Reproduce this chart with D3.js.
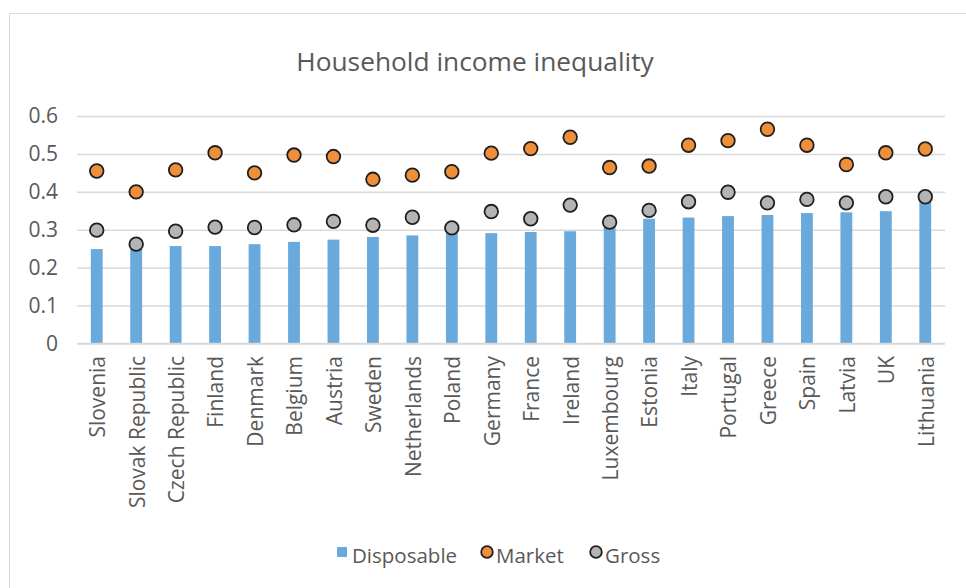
<!DOCTYPE html>
<html>
<head>
<meta charset="utf-8">
<script src="https://cdn.jsdelivr.net/npm/d3@7"></script>
<style>
  body { margin: 0; background: #fff; }
  text { font-family: "Open Sans", sans-serif; fill: #595959; }
</style>
</head>
<body>
<div id="chart"></div>
<script>
var countries = ["Slovenia", "Slovak Republic", "Czech Republic", "Finland", "Denmark", "Belgium",
  "Austria", "Sweden", "Netherlands", "Poland", "Germany", "France", "Ireland", "Luxembourg",
  "Estonia", "Italy", "Portugal", "Greece", "Spain", "Latvia", "UK", "Lithuania"];
var disposable = [0.249, 0.256, 0.257, 0.257, 0.262, 0.268, 0.274, 0.281, 0.285, 0.291, 0.291, 0.294,
  0.296, 0.31, 0.329, 0.332, 0.336, 0.339, 0.344, 0.346, 0.349, 0.376];
var market = [0.455, 0.400, 0.458, 0.503, 0.450, 0.497, 0.493, 0.433, 0.444, 0.453, 0.502, 0.514,
  0.544, 0.464, 0.468, 0.523, 0.535, 0.565, 0.523, 0.472, 0.503, 0.513];
var gross = [0.299, 0.262, 0.296, 0.307, 0.306, 0.313, 0.322, 0.312, 0.333, 0.305, 0.348, 0.329,
  0.365, 0.320, 0.351, 0.374, 0.399, 0.371, 0.380, 0.371, 0.387, 0.387];
var yTicks = [0, 0.1, 0.2, 0.3, 0.4, 0.5, 0.6];

var svgWidth = 966, svgHeight = 588;
var plot = { left: 77, right: 945, top: 116, bottom: 343.5 };

var svg = d3.select("#chart").append("svg")
  .attr("width", svgWidth)
  .attr("height", svgHeight);

// chart frame (only top and left edges show in the crop)
svg.append("rect")
  .attr("x", 9.5).attr("y", 13.5)
  .attr("width", 1000).attr("height", 700)
  .attr("fill", "none")
  .attr("stroke", "#d9d9d9")
  .attr("stroke-width", 1);

var x = d3.scaleBand()
  .domain(countries)
  .range([plot.left, plot.right])
  .paddingInner(0.7)
  .paddingOuter(0.35);

var y = d3.scaleLinear()
  .domain([0, 0.6])
  .range([plot.bottom, plot.top]);

// gridlines
var yAxis = d3.axisLeft(y)
  .tickValues(yTicks)
  .tickSize(-(plot.right - plot.left))
  .tickPadding(19)
  .tickFormat(function(d) { return d === 0 ? "0" : d3.format(".1f")(d); });

var yG = svg.append("g")
  .attr("transform", `translate(${plot.left},0)`)
  .call(yAxis);
yG.select(".domain").remove();
yG.selectAll("line").attr("stroke", "#d9d9d9").attr("stroke-width", 1.5);
yG.selectAll("text")
  .attr("font-size", 21)
  .style("font-family", "'Open Sans', sans-serif")
  .attr("fill", "#595959");

// bars
svg.append("g")
  .selectAll("rect")
  .data(countries)
  .enter()
  .append("rect")
  .attr("x", d => x(d))
  .attr("width", x.bandwidth())
  .attr("y", (d, i) => y(disposable[i]))
  .attr("height", (d, i) => y(0) - y(disposable[i]))
  .attr("fill", "#6aa9dc");

// x axis baseline
svg.append("line")
  .attr("x1", plot.left).attr("x2", plot.right)
  .attr("y1", y(0)).attr("y2", y(0))
  .attr("stroke", "#d9d9d9")
  .attr("stroke-width", 1.5);

// x labels
svg.append("g")
  .selectAll("text")
  .data(countries)
  .enter()
  .append("text")
  .attr("transform", d => `translate(${x(d) + x.bandwidth() / 2 + 1},356) rotate(-90)`)
  .attr("dy", "0.35em")
  .attr("text-anchor", "end")
  .attr("font-size", 21)
  .text(d => d);

// markers
function drawDots(values, color) {
  svg.append("g")
    .selectAll("circle")
    .data(countries)
    .enter()
    .append("circle")
    .attr("cx", d => x(d) + x.bandwidth() / 2)
    .attr("cy", (d, i) => y(values[i]))
    .attr("r", 6.8)
    .attr("fill", color)
    .attr("stroke", "#1f1f1f")
    .attr("stroke-width", 1.8);
}
drawDots(gross, "#b4b4b4");
drawDots(market, "#f08f3a");

// title
svg.append("text")
  .attr("x", 475)
  .attr("y", 71)
  .attr("text-anchor", "middle")
  .attr("font-size", 26.3)
  .text("Household income inequality");

// legend
var legend = svg.append("g");
legend.append("rect")
  .attr("x", 337).attr("y", 547)
  .attr("width", 10).attr("height", 10)
  .attr("fill", "#6aa9dc");
legend.append("text")
  .attr("x", 352).attr("y", 563)
  .attr("font-size", 20.5)
  .text("Disposable");
legend.append("circle")
  .attr("cx", 487).attr("cy", 552).attr("r", 5.8)
  .attr("fill", "#f08f3a").attr("stroke", "#1f1f1f").attr("stroke-width", 1.8);
legend.append("text")
  .attr("x", 496).attr("y", 563)
  .attr("font-size", 20.5)
  .text("Market");
legend.append("circle")
  .attr("cx", 596).attr("cy", 552).attr("r", 5.8)
  .attr("fill", "#b4b4b4").attr("stroke", "#1f1f1f").attr("stroke-width", 1.8);
legend.append("text")
  .attr("x", 605).attr("y", 563)
  .attr("font-size", 20.5)
  .text("Gross");
</script>
</body>
</html>
